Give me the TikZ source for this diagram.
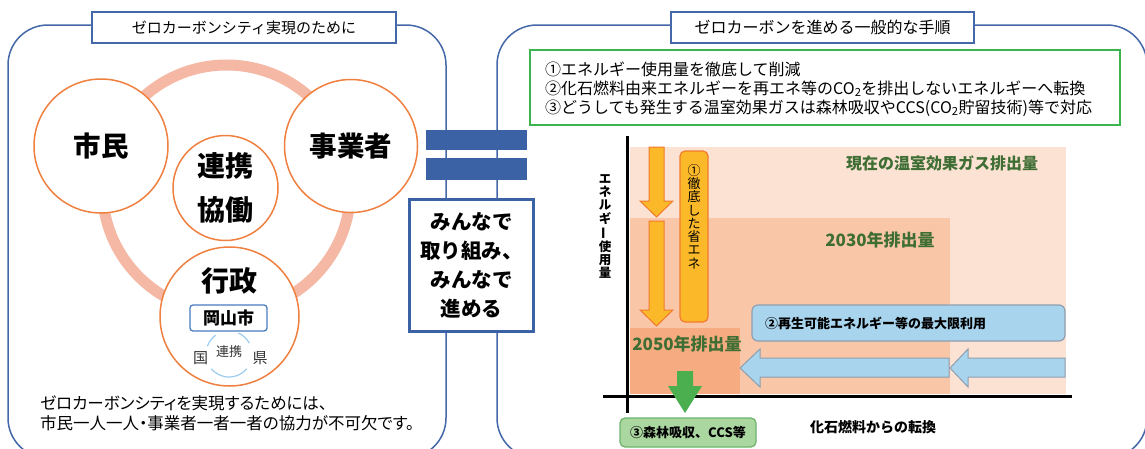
\documentclass[tikz,border=0pt]{standalone}
\usepackage{fontspec}
\usepackage{graphicx}
\setmainfont{Noto Sans CJK JP}
\newfontfamily\jpprop{Noto Sans CJK JP}[RawFeature=+palt]
\definecolor{panelblue}{HTML}{4468A8}
\definecolor{barblue}{HTML}{3B62A4}
\definecolor{circor}{HTML}{EF8040}
\definecolor{ringc}{HTML}{F5B8A4}
\definecolor{okablue}{HTML}{4A7CC0}
\definecolor{arcblue}{HTML}{9DCDEE}
\definecolor{framegreen}{HTML}{3DB54E}
\definecolor{regnow}{HTML}{FCE2D3}
\definecolor{reg30}{HTML}{FAC6A8}
\definecolor{reg50}{HTML}{F6AC80}
\definecolor{yeargreen}{HTML}{3F6E35}
\definecolor{arrowfill}{HTML}{FBB829}
\definecolor{arrowline}{HTML}{F07B2F}
\definecolor{bluefill}{HTML}{A8D4EE}
\definecolor{blueline}{HTML}{8E9FB0}
\definecolor{greenarrow}{HTML}{4BAE4F}
\definecolor{greenbox}{HTML}{AAD6A0}
\definecolor{greenboxline}{HTML}{6AB36A}
\begin{document}
\begin{tikzpicture}[x=1pt,y=-1pt,
  panel/.style={draw=panelblue, line width=1.5pt, rounded corners=40pt},
  titlebox/.style={draw=panelblue, line width=1.5pt, fill=white, minimum height=31pt, inner sep=0pt, font=\fontsize{15}{18}\selectfont},
  ringcirc/.style={circle, draw=circor, line width=1.5pt, fill=white, inner sep=0pt},
  bigtxt/.style={font=\fontsize{27.5}{30}\selectfont\bfseries},
  midtxt/.style={font=\fontsize{28}{30}\selectfont\bfseries},
  yeartxt/.style={text=yeargreen, font=\fontsize{17}{20}\selectfont\bfseries},
  orangearrow/.style={fill=arrowfill, draw=arrowline, line width=1pt},
  bluearrow/.style={fill=bluefill, draw=blueline, line width=1pt},
  axisline/.style={line width=3pt, black},
  arcline/.style={draw=arcblue, line width=1.2pt}
]
\useasboundingbox (0,0) rectangle (1145,448);
\fill[white] (0,0) rectangle (1145,448);

% panels
\draw[panel] (8,25) rectangle (446,458);
\draw[panel] (497,25) rectangle (1147,458);
\node[titlebox, minimum width=304pt] (ltitle) at (244,27.5) {ゼロカーボンシティ実現のために};
\node[titlebox, minimum width=303pt, font=\fontsize{16}{18}\selectfont] (rtitle) at (822.5,27.5) {ゼロカーボンを進める一般的な手順};

% ring
\coordinate (ringc) at (226.5,189);
\draw[ringc, line width=11pt] (ringc) circle[radius=124pt];

% circles
\node[ringcirc, minimum size=134pt, bigtxt] (shimin) at (101,146) {市民};
\node[ringcirc, minimum size=133pt, bigtxt] (jigyo) at (351,146) {事業者};
\node[ringcirc, minimum size=105pt] (renkei) at (225.5,188) {};
\node[midtxt] (renkeit) at (225.5,166) {連携};
\node[midtxt] (kyodot) at (225.5,210) {協働};
\node[ringcirc, minimum size=139pt] (gyosei) at (229.5,316.5) {};
\node[midtxt] (gyoseit) at (229,281) {行政};
\node[draw=okablue, line width=1.3pt, rounded corners=3pt, minimum width=77pt, minimum height=26pt, inner sep=0pt, font=\fontsize{17}{20}\selectfont\bfseries] (okayama) at (228.5,318) {岡山市};
\coordinate (kc) at (229,354);
\draw[arcline] (kc) ++(-125:23) arc[start angle=-125, end angle=-160, radius=23];
\draw[arcline] (kc) ++(-66:23) arc[start angle=-66, end angle=-28, radius=23];
\draw[arcline] (kc) ++(40:23) arc[start angle=40, end angle=140, radius=23];
\node[font=\fontsize{15}{18}\selectfont, text=black!80] (kuni) at (200.5,358) {国};
\node[font=\fontsize{15}{18}\selectfont, text=black!80] (ken) at (260,358) {県};
\node[font=\fontsize{13}{15}\selectfont, text=black!80] (renkeis) at (229,352) {連携};

\node[anchor=west, align=left, font=\jpprop\fontsize{16.5}{20}\selectfont, inner sep=0pt] (note) at (40,413) {ゼロカーボンシティを実現するためには、\\市民一人一人・事業者一者一者の協力が不可欠です。};

% middle equal sign and box
\fill[barblue] (426,130) rectangle (527,150);
\fill[barblue] (426,158) rectangle (527,180);
\node[draw=barblue, line width=3pt, fill=white, minimum width=124pt, minimum height=132pt, inner sep=0pt, align=center, font=\fontsize{20.5}{29}\selectfont\bfseries] (minna) at (471.5,265.5) {みんなで\\取り組み、\\みんなで\\進める};

% green frame
\node[draw=framegreen, line width=1.5pt, fill=white, minimum width=590pt, minimum height=75pt, inner sep=0pt] (steps) at (825,87.5) {};
\node[anchor=west, align=left, inner sep=0pt, font=\fontsize{16}{19}\selectfont] (stepstxt) at (545,89) {①エネルギー使用量を徹底して削減\\②化石燃料由来エネルギーを再エネ等のCO\textsubscript{2}を排出しないエネルギーへ転換\\③どうしても発生する温室効果ガスは森林吸収やCCS(CO\textsubscript{2}貯留技術)等で対応};

% chart regions
\fill[regnow] (630,147) rectangle (1066,394);
\fill[reg30] (630,218) rectangle (950,394);
\fill[reg50] (630,328) rectangle (740,394);
\node[text=yeargreen, font=\fontsize{16}{20}\selectfont\bfseries] (now) at (942,163) {現在の温室効果ガス排出量};
\node[yeartxt] (y2030) at (880,240) {2030年排出量};
\node[yeartxt] (y2050) at (687,344) {2050年排出量};

% orange arrows and box
\draw[orangearrow] (649,147) -- (649,201) -- (640,201) -- (656.5,217) -- (673,201) -- (664,201) -- (664,147) -- cycle;
\draw[orangearrow] (649,221) -- (649,310) -- (640,310) -- (656.5,326) -- (673,310) -- (664,310) -- (664,221) -- cycle;
\node[fill=arrowfill, draw=arrowline, line width=1.2pt, rounded corners=5pt, minimum width=28pt, minimum height=171pt, inner sep=0pt] (shoene) at (694,236.5) {};
\node[align=center, inner sep=0pt, font=\fontsize{13}{13.3}\selectfont] (shoenet) at (694,216.5) {①\\徹\\底\\し\\た\\省\\エ\\ネ};

% blue box and arrows
\node[fill=bluefill, draw=blueline, line width=1.2pt, rounded corners=6pt, minimum width=313pt, minimum height=36pt, inner sep=0pt] (saiene) at (908.5,323) {};
\node[anchor=west, inner sep=0pt, font=\fontsize{13}{15}\selectfont\bfseries] (saienet) at (765,323) {②再生可能エネルギー等の最大限利用};
\draw[bluearrow] (949,358) -- (760,358) -- (760,349) -- (740,368) -- (760,387) -- (760,377) -- (949,377) -- cycle;
\draw[bluearrow] (1065,358) -- (968,358) -- (968,349) -- (950,368) -- (968,387) -- (968,377) -- (1065,377) -- cycle;

% axes
\draw[axisline] (627,136) -- (627,413);
\draw[axisline] (603,396) -- (1072,396);
\node[align=center, inner sep=0pt, font=\fontsize{12.5}{13.3}\selectfont\bfseries] (ylabel) at (605,226.5) {エ\\ネ\\ル\\ギ\\\rotatebox[origin=c]{90}{ー}\\使\\用\\量};
\node[font=\fontsize{14}{16}\selectfont\bfseries] (xlabel) at (873,427) {化石燃料からの転換};

% green arrow and box
\fill[greenarrow] (677,371) -- (677,386) -- (668,386) -- (685,413) -- (702,386) -- (693,386) -- (693,371) -- cycle;
\node[fill=greenbox, draw=greenboxline, line width=1.2pt, rounded corners=5pt, minimum width=136pt, minimum height=29pt, inner sep=0pt, font=\fontsize{13}{15}\selectfont\bfseries] (shinrin) at (688,432.5) {③森林吸収、CCS等};
\end{tikzpicture}
\end{document}
